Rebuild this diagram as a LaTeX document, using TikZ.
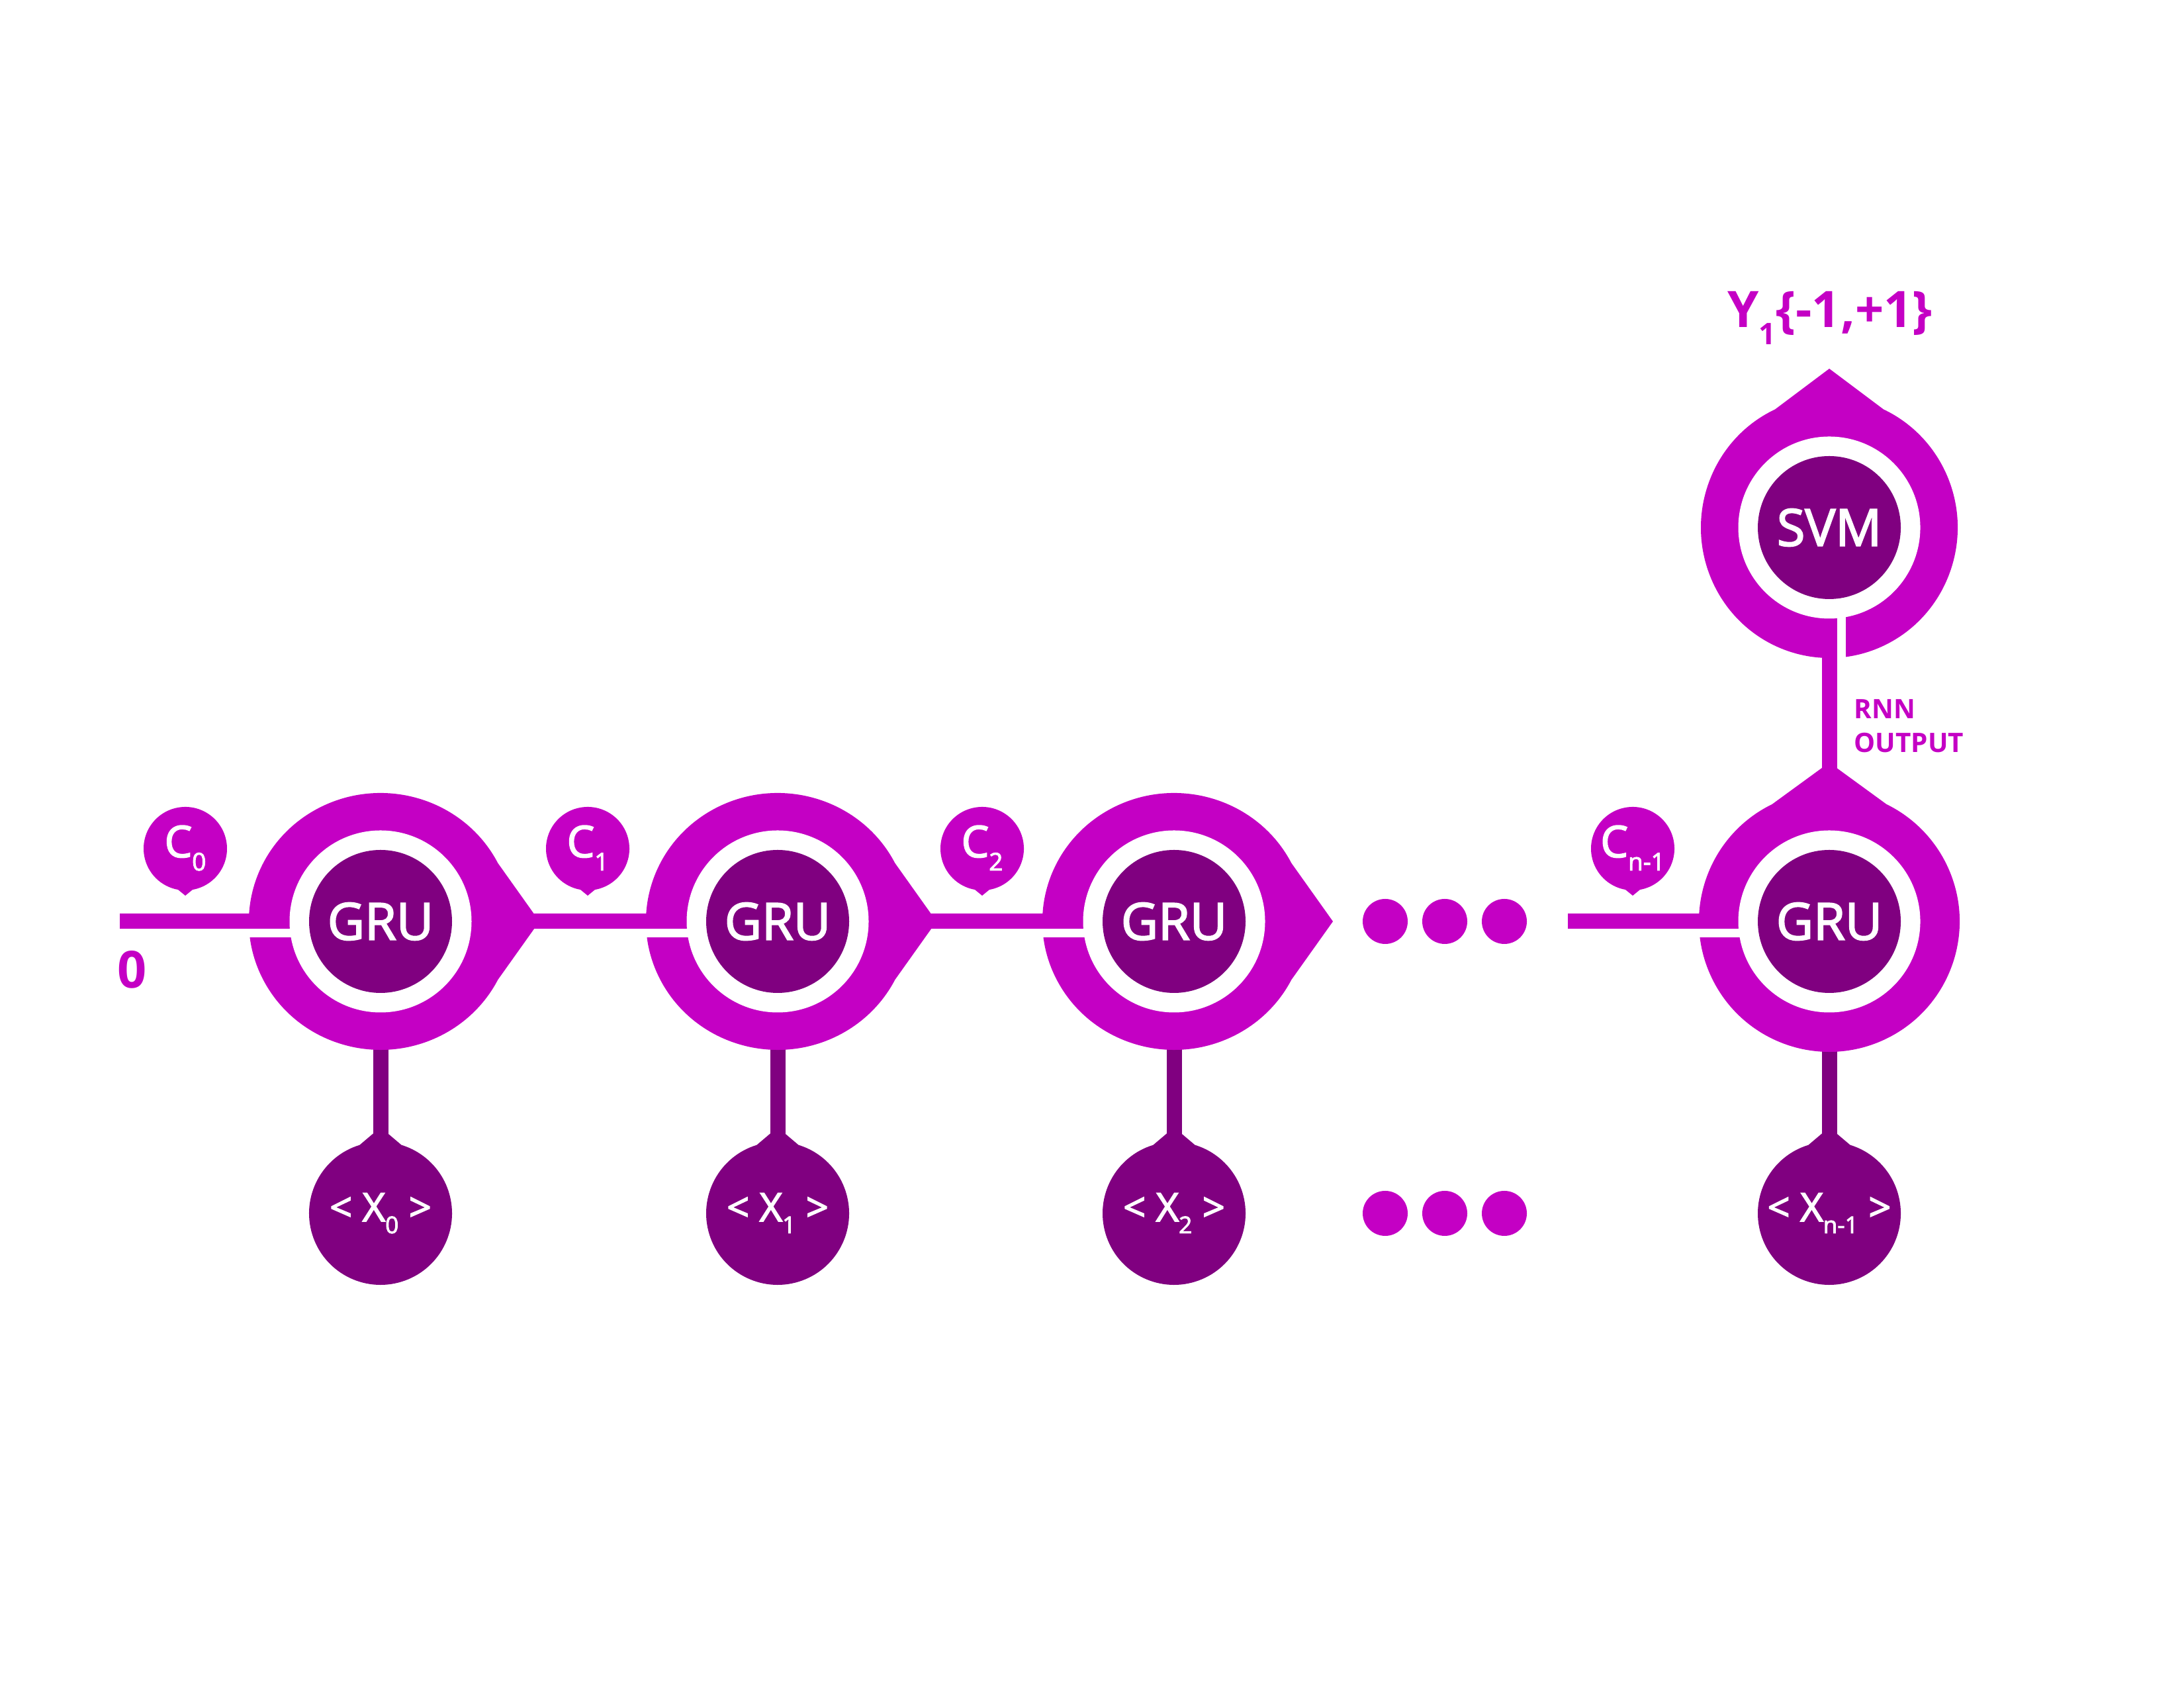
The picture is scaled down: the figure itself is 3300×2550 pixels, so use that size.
\documentclass[tikz,border=0pt]{standalone}
\usepackage{fontspec}
\setmainfont{Open Sans}
\newfontfamily\lblfont{Open Sans}[FakeBold=2.6]
\definecolor{mag}{RGB}{196,0,196}
\definecolor{dpur}{RGB}{128,0,128}
% subscript: text, drop, size
\newcommand{\lsub}[3]{\raisebox{#2}{\fontsize{#3}{#3}\selectfont #1}}
% teardrop: centre, rotation, rx, ry, apex distance, kink angle, colour
\newcommand{\drop}[7]{\fill[#7,shift={(#1)},rotate=#2] (#5,0) -- ({#3*cos(#6)},{#4*sin(#6)}) arc[start angle=#6,end angle={360-#6},x radius=#3,y radius=#4] -- cycle;}
\begin{document}
\begin{tikzpicture}[x=0.1mm,y=0.1mm,
  conn/.style={mag,line width=2.3mm},
  stem/.style={dpur,line width=2.3mm},
  wtxt/.style={text=white,inner sep=0pt},
  mtxt/.style={text=mag,inner sep=0pt}]
\useasboundingbox (0,0) rectangle (3300,2550);
\fill[white] (0,0) rectangle (3300,2550);
% centres
\coordinate (g1) at (575,1158);
\coordinate (g2) at (1175,1158);
\coordinate (g3) at (1774,1158);
\coordinate (g4) at (2764,1158);
\coordinate (svm) at (2764,1753);
\coordinate (x1) at (575,717);
\coordinate (x2) at (1175,717);
\coordinate (x3) at (1774,717);
\coordinate (x4) at (2764,717);
\coordinate (c1) at (280,1268);
\coordinate (c2) at (888,1268);
\coordinate (c3) at (1484,1268);
\coordinate (c4) at (2467,1268);
\coordinate (start) at (181,1158);
\coordinate (s4) at (2369,1158);
\coordinate (d1) at (2093,1158);
\coordinate (d2) at (2183,1158);
\coordinate (d3) at (2273,1158);
\coordinate (e1) at (2093,717);
\coordinate (e2) at (2183,717);
\coordinate (e3) at (2273,717);
% stems
\foreach \i in {1,2,3,4} {\draw[stem] (g\i) -- (x\i);}
% outer shapes
\drop{g1}{0}{199}{194}{240}{27}{mag}
\drop{g2}{0}{199}{194}{240}{27}{mag}
\drop{g3}{0}{199}{194}{240}{27}{mag}
\drop{g4}{90}{197}{197}{240}{26}{mag}
\drop{svm}{90}{197}{194}{240}{25}{mag}
\foreach \i in {1,2,3,4} {\drop{x\i}{90}{108}{108}{130}{17}{dpur}}
\foreach \i in {1,2,3,4} {\drop{c\i}{-90}{63}{63}{71}{10}{mag}}
% gaps next to the entering lines
\foreach \i in {1,2,3,4} {\fill[white] ([xshift=-22mm,yshift=-2.45mm]g\i) rectangle ([xshift=-12mm,yshift=-1.15mm]g\i);}
\fill[white] ([xshift=1.15mm,yshift=-22mm]svm) rectangle ([xshift=2.45mm,yshift=-12mm]svm);
% connectors
\draw[conn] (start) -- ([xshift=-13mm]g1);
\draw[conn] ([xshift=20mm]g1) -- ([xshift=-13mm]g2);
\draw[conn] ([xshift=20mm]g2) -- ([xshift=-13mm]g3);
\draw[conn] (s4) -- ([xshift=-13mm]g4);
\draw[conn] ([yshift=20mm]g4) -- ([yshift=-13mm]svm);
% rings and cores
\foreach \n in {g1,g2,g3,g4,svm} {
  \fill[white] (\n) circle[radius=137.5];
  \fill[dpur] (\n) circle[radius=108];
}
% dots
\foreach \n in {d1,d2,d3,e1,e2,e3} {\fill[mag] (\n) circle[radius=34];}
% labels
\foreach \i in {1,2,3,4} {\node[wtxt,font={\lblfont\fontsize{22}{24}\selectfont}] (gru\i) at (g\i) {GRU};}
\node[wtxt,font={\lblfont\fontsize{22}{24}\selectfont}] (svmlab) at (svm) {SVM};
\node[wtxt,anchor=base,font={\lblfont\fontsize{17}{19}\selectfont}] (xl1) at ([yshift=-1.2mm]x1) {< X\lsub{0}{-1.8mm}{10} >};
\node[wtxt,anchor=base,font={\lblfont\fontsize{17}{19}\selectfont}] (xl2) at ([yshift=-1.2mm]x2) {< X\lsub{1}{-1.8mm}{10} >};
\node[wtxt,anchor=base,font={\lblfont\fontsize{17}{19}\selectfont}] (xl3) at ([yshift=-1.2mm]x3) {< X\lsub{2}{-1.8mm}{10} >};
\node[wtxt,anchor=base,font={\lblfont\fontsize{17}{19}\selectfont}] (xl4) at ([yshift=-1.2mm]x4) {< X\lsub{n-1}{-1.8mm}{10} >};
\node[wtxt,anchor=base,font={\lblfont\fontsize{18.8}{20}\selectfont}] (cl1) at ([yshift=-1.3mm]c1) {C\lsub{0}{-2mm}{10.5}};
\node[wtxt,anchor=base,font={\lblfont\fontsize{18.8}{20}\selectfont}] (cl2) at ([yshift=-1.3mm]c2) {C\lsub{1}{-2mm}{10.5}};
\node[wtxt,anchor=base,font={\lblfont\fontsize{18.8}{20}\selectfont}] (cl3) at ([yshift=-1.3mm]c3) {C\lsub{2}{-2mm}{10.5}};
\node[wtxt,anchor=base,font={\lblfont\fontsize{18.8}{20}\selectfont}] (cl4) at ([yshift=-1.3mm]c4) {C\lsub{n-1}{-2mm}{10.5}};
\node[mtxt,font={\bfseries\fontsize{22}{24}\selectfont}] (zero) at (200,1085) {0};
\node[mtxt,anchor=base west,font={\bfseries\fontsize{11.5}{14}\selectfont}] (rnn1) at (2801,1464) {RNN};
\node[mtxt,anchor=base west,font={\bfseries\fontsize{11.5}{14}\selectfont}] (rnn2) at (2801,1413) {OUTPUT};
\node[mtxt,anchor=base,font={\bfseries\fontsize{21.6}{24}\selectfont}] (ylab) at (2765,2055) {Y\lsub{1}{-2.6mm}{12.8}\{-1,+1\}};
\end{tikzpicture}
\end{document}
